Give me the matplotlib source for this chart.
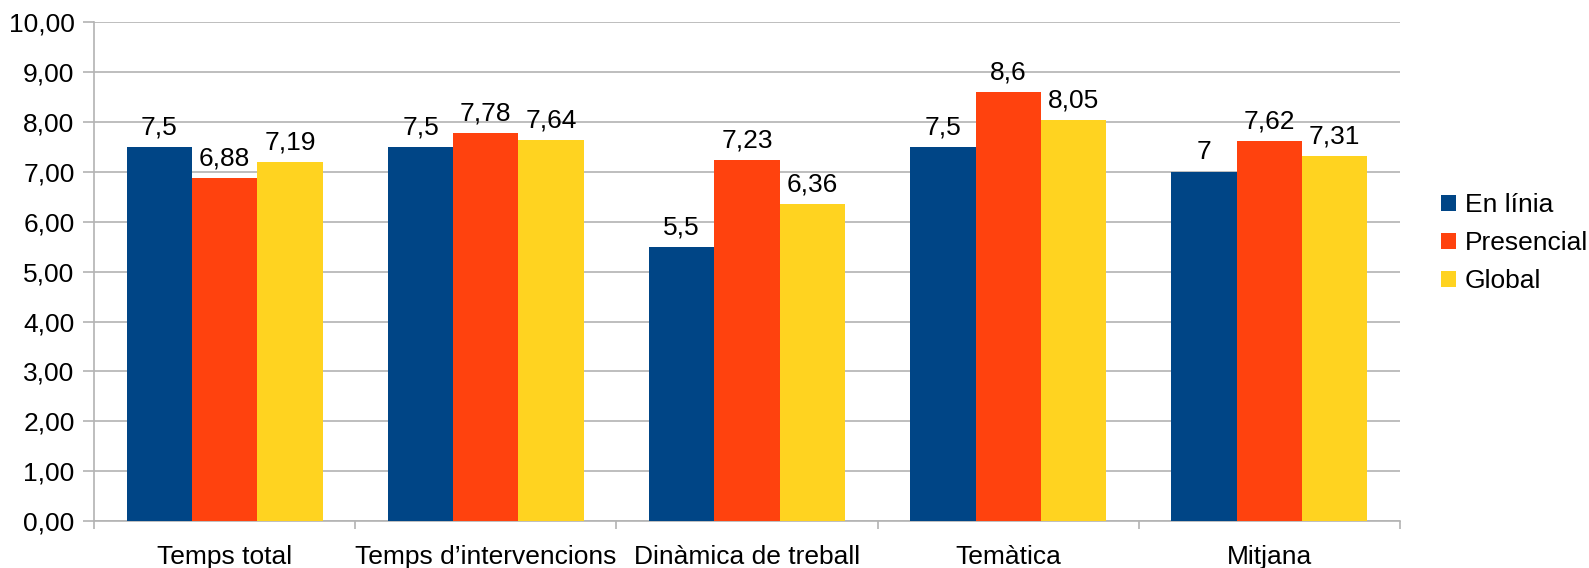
import numpy as np
import matplotlib
matplotlib.use("Agg")
import matplotlib.pyplot as plt
from matplotlib.ticker import FixedLocator, FuncFormatter

plt.rcParams['font.family'] = ['Liberation Sans', 'DejaVu Sans']

categories = ['Temps total', 'Temps d\u2019intervencions', 'Dinàmica de treball', 'Temàtica', 'Mitjana']
en_linia = [7.5, 7.5, 5.5, 7.5, 7]
presencial = [6.88, 7.78, 7.23, 8.6, 7.62]
global_ = [7.19, 7.64, 6.36, 8.05, 7.31]
series_names = ['En línia', 'Presencial', 'Global']
colors = ['#004586', '#ff420e', '#ffd320']

fs = 19
fig = plt.figure(figsize=(15.89, 5.68), dpi=100)
ax = fig.add_axes([0.0592, 0.0827, 0.8218, 0.878])

x = np.arange(len(categories))
w = 0.25
grid_c = '#b3b3b3'


def fmt(v):
    return ('%g' % v).replace('.', ',')


for i, (vals, name) in enumerate(zip([en_linia, presencial, global_], series_names)):
    bars = ax.bar(x + (i - 1) * w, vals, width=w, color=colors[i], label=name, zorder=3)
    for b, v in zip(bars, vals):
        ax.annotate(fmt(v), (b.get_x() + b.get_width() / 2, v), xytext=(0, 9),
                    textcoords='offset points', ha='center', va='baseline',
                    fontsize=fs, color='black')

ax.set_xlim(-0.5, len(categories) - 0.5)
ax.set_ylim(0, 10)
ax.set_yticks(np.arange(0, 11, 1))
ax.yaxis.set_major_formatter(FuncFormatter(lambda v, p: ('%.2f' % v).replace('.', ',')))
ax.set_xticks(x)
ax.set_xticklabels(categories)
ax.xaxis.set_minor_locator(FixedLocator(np.arange(-0.5, len(categories), 1)))

ax.grid(axis='y', color=grid_c, linewidth=1.2, zorder=0)
for s in ['top', 'right']:
    ax.spines[s].set_visible(False)
for s in ['left', 'bottom']:
    ax.spines[s].set_color(grid_c)
    ax.spines[s].set_linewidth(1.2)

ax.tick_params(axis='y', labelsize=fs, length=8, color=grid_c, width=1.2, pad=6)
ax.tick_params(axis='x', which='major', labelsize=fs, length=0, pad=17)
ax.tick_params(axis='x', which='minor', length=6, color=grid_c, width=1.2)

fig.legend(loc='center left', bbox_to_anchor=(1441 / 1589, 0.572), frameon=False, fontsize=fs,
           handlelength=0.55, handleheight=0.55, handletextpad=0.35, labelspacing=0.53,
           borderpad=0, borderaxespad=0)

fig.savefig('out.png', dpi=100)
